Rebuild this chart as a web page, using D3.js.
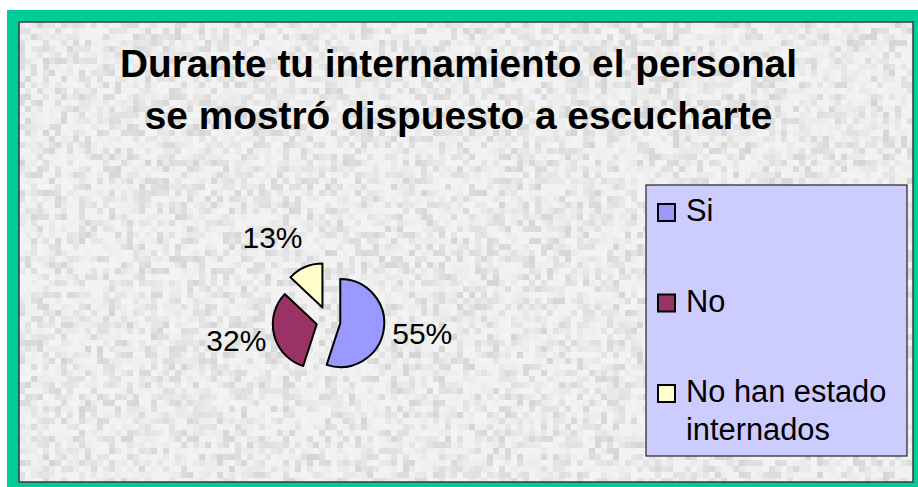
<!DOCTYPE html>
<html>
<head>
<meta charset="utf-8">
<script src="https://cdn.jsdelivr.net/npm/d3@7"></script>
<style>
  html, body { margin: 0; padding: 0; background: #fff; }
  svg { display: block; font-family: "Liberation Sans", Arial, sans-serif; }
</style>
</head>
<body>
<script>
// chart data
var categories = ["Si", "No", "No han estado internados"];
var legendLines = [["Si"], ["No"], ["No han estado", "internados"]];
var values = [55, 32, 13];
var pctLabels = ["55%", "32%", "13%"];
var titleLines = ["Durante tu internamiento el personal", "se mostró dispuesto a escucharte"];

// styles
var colors = ["#9999ff", "#993366", "#ffffcc"];
var explode = [12, 12, 15];
var labelShift = [[0, -3], [0, -5], [-17, 6]];

var w = 918, h = 487;

var svg = d3.select("body").append("svg")
    .attr("width", w)
    .attr("height", h)
    .attr("viewBox", "0 0 " + w + " " + h);

// blocky granite texture (decorative only), drawn once on a canvas
function granite(pw, ph, cell) {
    var c = document.createElement("canvas");
    c.width = pw; c.height = ph;
    var ctx = c.getContext("2d");
    var s = 12345;
    function rnd() { s = (s * 1103515245 + 12345) % 2147483648; return s / 2147483648; }
    for (var y = 0; y < ph; y += cell) {
        for (var x = 0; x < pw; x += cell) {
            var g = Math.round(243 - Math.pow(rnd(), 2.2) * 30);
            ctx.fillStyle = "rgb(" + g + "," + g + "," + g + ")";
            ctx.fillRect(x, y, cell, cell);
        }
    }
    return c.toDataURL();
}

// green frame
svg.append("rect")
    .attr("x", 7).attr("y", 10)
    .attr("width", w - 7).attr("height", h - 10)
    .attr("fill", "#00cc99");

// textured plot area
svg.append("image")
    .attr("x", 19).attr("y", 22)
    .attr("width", 894).attr("height", 460)
    .attr("preserveAspectRatio", "none")
    .attr("style", "image-rendering:pixelated")
    .attr("href", granite(894, 460, 6));
svg.append("rect")
    .attr("x", 19).attr("y", 22)
    .attr("width", 894).attr("height", 460)
    .attr("fill", "none")
    .attr("stroke", "#3a3a3a")
    .attr("stroke-width", 1.5);

// title
svg.append("g").selectAll("text")
    .data(titleLines)
    .enter().append("text")
    .attr("x", 458.5)
    .attr("y", function (d, i) { return 77 + i * 52; })
    .attr("text-anchor", "middle")
    .attr("font-weight", "bold")
    .attr("font-size", "38.8px")
    .attr("fill", "#000")
    .text(function (d) { return d; });

// pie
var cx = 328.4, cy = 321.2, r = 44;
var pie = d3.pie().sort(null).value(function (d) { return d; });
var arc = d3.arc().innerRadius(0).outerRadius(r);
var arcs = pie(values);

function dir(a) {
    var m = (a.startAngle + a.endAngle) / 2;
    return [Math.sin(m), -Math.cos(m)];
}

var pg = svg.append("g").attr("transform", "translate(" + cx + "," + cy + ")");
pg.selectAll("path")
    .data(arcs)
    .enter().append("path")
    .attr("d", arc)
    .attr("transform", function (d, i) {
        var u = dir(d);
        return "translate(" + (u[0] * explode[i]) + "," + (u[1] * explode[i]) + ")";
    })
    .attr("fill", function (d, i) { return colors[i]; })
    .attr("stroke", "#000")
    .attr("stroke-width", 2)
    .attr("stroke-linejoin", "round");

pg.selectAll("text.pct")
    .data(arcs)
    .enter().append("text")
    .attr("class", "pct")
    .attr("x", function (d, i) { return dir(d)[0] * (explode[i] + r + 39) + labelShift[i][0]; })
    .attr("y", function (d, i) { return dir(d)[1] * (explode[i] + r + 39) + labelShift[i][1] + 10.7; })
    .attr("text-anchor", "middle")
    .attr("font-size", "30px")
    .attr("fill", "#000")
    .text(function (d, i) { return pctLabels[i]; });

// legend
var lg = svg.append("g");
lg.append("rect")
    .attr("x", 646).attr("y", 185)
    .attr("width", 261).attr("height", 271)
    .attr("fill", "#ccccff")
    .attr("stroke", "#222")
    .attr("stroke-width", 1.2);

var itemY = d3.scalePoint().domain(categories).range([221, 402]);

var items = lg.selectAll("g.item")
    .data(categories)
    .enter().append("g")
    .attr("class", "item")
    .attr("transform", function (d) { return "translate(0," + itemY(d) + ")"; });

items.append("rect")
    .attr("x", 658).attr("y", -17)
    .attr("width", 17).attr("height", 17)
    .attr("fill", function (d, i) { return colors[i]; })
    .attr("stroke", "#000")
    .attr("stroke-width", 2);

items.append("text")
    .attr("x", 686)
    .attr("font-size", "30.8px")
    .attr("fill", "#000")
    .selectAll("tspan")
    .data(function (d, i) { return legendLines[i]; })
    .enter().append("tspan")
    .attr("x", 686)
    .attr("y", function (d, j) { return j * 38; })
    .text(function (d) { return d; });
</script>
</body>
</html>
